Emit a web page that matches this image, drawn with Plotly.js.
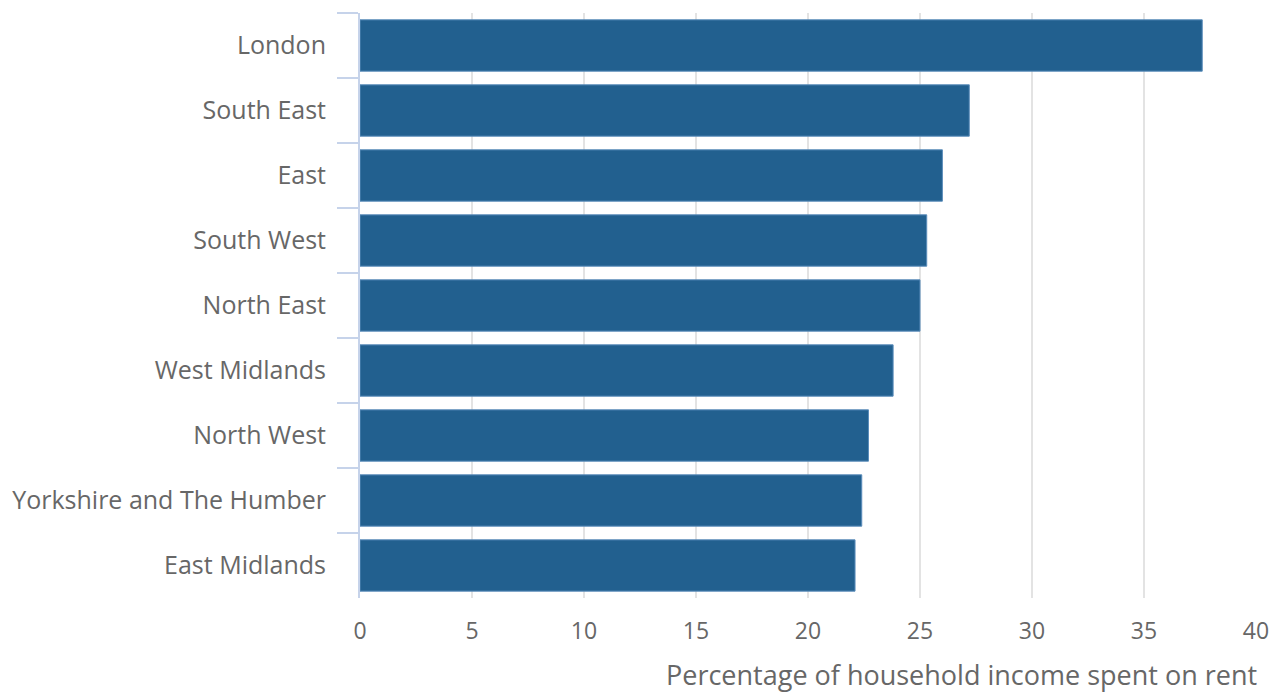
<!DOCTYPE html>
<html>
<head>
<meta charset="utf-8">
<script src="https://cdn.plot.ly/plotly-3.0.1.min.js"></script>
<style>html,body{margin:0;padding:0;background:#fff;}#chart{width:1279px;height:693px;}</style>
</head>
<body>
<div id="chart"></div>
<script>
const regions = ["London","South East","East","South West","North East","West Midlands","North West","Yorkshire and The Humber","East Midlands"];
const rentShare = [37.6, 27.2, 26.0, 25.3, 25.0, 23.8, 22.7, 22.4, 22.1];
const xTicks = [0,5,10,15,20,25,30,35,40];
const xTitle = "Percentage of household income spent on rent";

const font = "'Open Sans', 'Noto Sans', sans-serif";
const textColor = "#676767";

Plotly.newPlot("chart", [{
  type: "bar",
  orientation: "h",
  y: regions,
  x: rentShare,
  marker: {color: "#22608f", line: {color: "#5b8dbb", width: 1}},
  hoverinfo: "x+y"
}], {
  width: 1279, height: 693,
  margin: {l: 360, r: 23, t: 13, b: 95},
  paper_bgcolor: "#fff", plot_bgcolor: "#fff",
  bargap: 0.21,
  showlegend: false,
  font: {family: font, color: textColor, size: 21},
  xaxis: {
    range: [0, 40], tickvals: xTicks, ticktext: xTicks.map(String),
    showgrid: true, gridcolor: "#e3e3e3", gridwidth: 2,
    zeroline: false, showline: false, ticks: "",
    tickfont: {size: 23, color: textColor, family: font},
    ticklabelstandoff: 17
  },
  yaxis: {
    type: "category", autorange: "reversed",
    showline: true, linecolor: "#c6d3ea", linewidth: 2,
    ticks: "outside", tickson: "boundaries", ticklen: 21, tickwidth: 2, tickcolor: "#c6d3ea",
    showgrid: false, zeroline: false,
    tickfont: {size: 25, color: textColor, family: font},
    ticklabelstandoff: 27
  },
  annotations: [{
    text: xTitle, xref: "paper", yref: "paper", x: 1.002, y: 0, xanchor: "right", yanchor: "top",
    yshift: -57, borderpad: 0, showarrow: false, font: {size: 27, color: textColor, family: font}
  }]
}, {displayModeBar: false, staticPlot: true});
</script>
</body>
</html>
